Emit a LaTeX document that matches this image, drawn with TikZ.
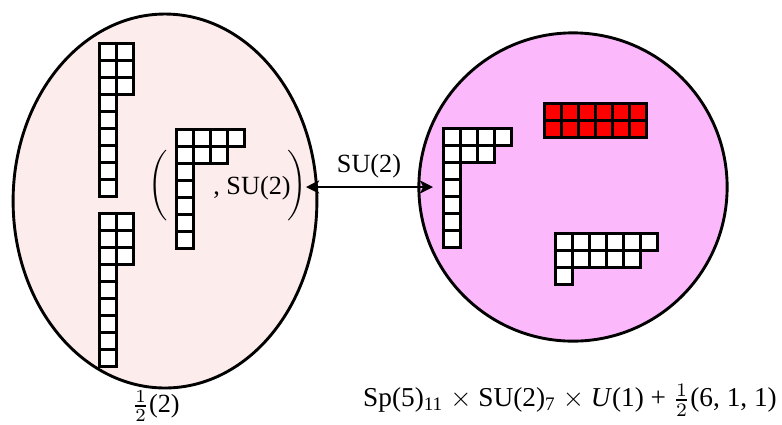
\documentclass[tikz,border=0pt]{standalone}
\usepackage{fontspec}
\setmainfont{Liberation Serif}
\usetikzlibrary{shapes.geometric,arrows.meta}
\definecolor{lftfill}{RGB}{253,236,236}
\definecolor{rgtfill}{RGB}{251,185,251}
\newcommand{\youngdiag}[4]{%
  \foreach \n [count=\r from 0] in {#3}
    \foreach \c in {1,...,\n}
      \draw [#4] (#1+17*\c-17,#2+17*\r) rectangle ++(17,17);}
\newcommand{\sbs}[1]{$_{\mbox{\scriptsize #1}}$}
\begin{document}
\begin{tikzpicture}[x=0.0134cm,y=-0.0134cm]
\tikzstyle{blob}=[draw,ellipse,line width=1.1pt,inner sep=0pt]
\tikzstyle{cell}=[draw,line width=1.1pt,fill=white]
\tikzstyle{redcell}=[cell,fill=red]
\tikzstyle{pairarrow}=[{Stealth[length=5pt,width=5pt,inset=1.3pt]}-{Stealth[length=5pt,width=5pt,inset=1.3pt]},line width=1.1pt]
\useasboundingbox (0,0) rectangle (782,424);
\node [blob,fill=lftfill,minimum width=4.07cm,minimum height=5.01cm] (lft) at (165,201) {};
\node [blob,fill=rgtfill,minimum width=4.13cm,minimum height=4.13cm] (rgt) at (573,187) {};
\youngdiag{99.5}{43.2}{2,2,2,1,1,1,1,1,1}{cell}
\youngdiag{99.5}{213.2}{2,2,2,1,1,1,1,1,1}{cell}
\youngdiag{176.5}{129.8}{4,3,1,1,1,1,1}{cell}
\youngdiag{443.2}{128.8}{4,3,1,1,1,1,1}{cell}
\youngdiag{544.8}{103.2}{6,6}{redcell}
\youngdiag{555.5}{233.2}{6,5,1}{cell}
\node (lpar) at (158,186) {\scalebox{1}[1.12]{$\bigg($}};
\node (rpar) at (297,186) {\scalebox{1}[1.12]{$\bigg)$}};
\node (pairsu2) at (252,188) {, SU(2)};
\node (linksu2) at (369,166) {SU(2)};
\coordinate (su2l) at (306,187);
\coordinate (su2r) at (433,187);
\draw [pairarrow] (su2l) -- (su2r);
\node (lftlabel) at (156,406) {$\frac{1}{2}$(2)};
\node [scale=1.04] (rgtlabel) at (570,400) {Sp(5)\sbs{11} $\times$ SU(2)\sbs{7} $\times$ \textit{U}(1) + $\frac{1}{2}$(6,\ 1,\ 1)};
\end{tikzpicture}
\end{document}
